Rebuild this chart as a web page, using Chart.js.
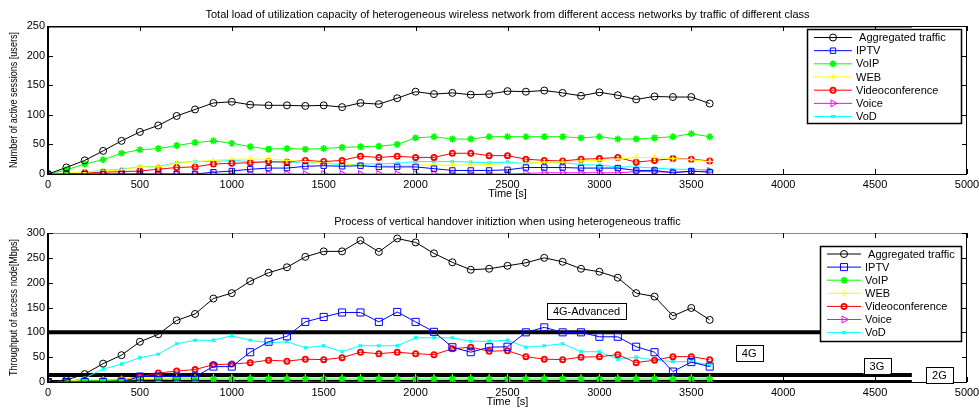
<!DOCTYPE html>
<html>
<head>
<meta charset="utf-8">
<script src="https://cdn.jsdelivr.net/npm/chart.js@4.4.1/dist/chart.umd.min.js"></script>
<style>
  body { margin: 0; background: #fff; width: 979px; height: 411px; overflow: hidden; }
  canvas { position: absolute; left: 0; }
  #c1 { top: 0; }
  #c2 { top: 205px; }
</style>
</head>
<body>
<canvas id="c1" width="979" height="205"></canvas>
<canvas id="c2" width="979" height="206"></canvas>
<script>
// time axis (s)
const times = [0, 100, 200, 300, 400, 500, 600, 700, 800, 900, 1000, 1100, 1200, 1300, 1400, 1500, 1600, 1700, 1800,
  1900, 2000, 2100, 2200, 2300, 2400, 2500, 2600, 2700, 2800, 2900, 3000, 3100, 3200, 3300, 3400, 3500, 3600];
const seriesNames = [' Aggregated traffic', 'IPTV', 'VoIP', 'WEB', 'Videoconference', 'Voice', 'VoD'];

// upper plot: active sessions [users]
const aggSessions = [0, 11, 23, 39, 56, 71, 82, 98, 109, 120, 122, 117, 116, 116, 115, 116, 113, 120, 118, 128, 139, 135,
  137, 134, 135, 140, 139, 141, 137, 132, 138, 133, 126, 131, 130, 130, 119];
const iptvSessions = [0, 0, 0, 0, 0, 0, 0, 0, 0, 3, 5, 8, 10, 10, 13, 14, 13, 14, 12, 12, 12, 9, 6, 6, 6, 7, 11, 11, 11, 10,
  10, 10, 6, 6, 2, 5, 3];
const voipSessions = [0, 7, 17, 24, 35, 41, 43, 48, 53, 56, 52, 46, 42, 43, 42, 43, 45, 46, 47, 50, 61, 63, 59, 59, 63, 63,
  63, 63, 63, 61, 63, 59, 59, 61, 63, 68, 63];
const webSessions = [0, 2, 3, 5, 7, 12, 12, 18, 21, 23, 25, 25, 25, 23, 21, 19, 17, 14, 14, 14, 15, 15, 15, 15, 16, 18, 18,
  20, 20, 22, 23, 25, 28, 28, 26, 24, 21];
const videoSessions = [0, 1, 2, 3, 4, 5, 8, 11, 12, 17, 18, 19, 21, 20, 23, 21, 23, 30, 28, 30, 28, 28, 35, 35, 31, 31, 25,
  23, 22, 25, 26, 28, 20, 23, 26, 25, 22];
const voiceSessions = [0, 0, 0, 0, 0, 0, 0, 0, 0, 0, 0, 0, 0, 0, 0, 0, 0, 0, 0, 0, 0, 0, 0, 0, 0, 0, 1, 2, 2, 2, 2, 2, 4, 4,
  3, 4, 5];
const vodSessions = [0, 1, 3, 6, 8, 12, 13, 19, 21, 21, 23, 21, 20, 20, 20, 19, 15, 17, 17, 18, 21, 21, 21, 20, 19, 20, 18,
  20, 19, 16, 15, 12, 12, 10, 8, 8, 7];

// lower plot: throughput of access node [Mbps]
const aggTput = [0, 4, 16, 37, 54, 81, 96, 124, 137, 168, 179, 203, 220, 231, 252, 263, 263, 285, 262, 289, 281, 259, 241,
  226, 228, 234, 240, 250, 242, 228, 222, 210, 179, 172, 133, 149, 125];
const iptvTput = [0, 0, 0, 0, 0, 11, 11, 11, 11, 31, 31, 60, 81, 92, 121, 131, 140, 140, 121, 141, 121, 101, 70, 60, 70, 71,
  100, 110, 100, 100, 91, 91, 71, 60, 21, 40, 31];
const voipTput = [0, 1, 2, 3, 4, 5, 5, 6, 6, 6, 6, 6, 6, 6, 6, 6, 6, 6, 6, 6, 6, 6, 6, 6, 6, 6, 6, 6, 6, 6, 6, 6, 6, 6, 6, 6, 6];
const webTput = [0, 2, 4, 5, 6, 7, 8, 8, 9, 9, 9, 9, 9, 9, 9, 9, 9, 9, 9, 9, 9, 9, 9, 9, 9, 9, 9, 9, 9, 9, 9, 9, 9, 9, 9, 9, 9];
const videoTput = [0, 0, 2, 3, 5, 10, 18, 22, 25, 35, 36, 39, 44, 42, 46, 45, 49, 60, 57, 60, 57, 55, 67, 70, 62, 63, 51, 46,
  45, 50, 51, 55, 39, 44, 51, 51, 45];
const voiceTput = [0, 0, 0, 0, 0, 0, 0, 0, 0, 0, 0, 0, 0, 0, 0, 0, 0, 0, 0, 0, 0, 0, 0, 0, 0, 0, 0, 0, 0, 0, 0, 0, 0, 0, 0, 0, 0];
const vodTput = [0, 0, 8, 26, 36, 49, 56, 77, 84, 84, 93, 84, 79, 81, 69, 73, 61, 73, 73, 73, 89, 89, 89, 82, 82, 84, 70, 73,
  77, 61, 61, 46, 50, 44, 41, 41, 34];

// network capacity limits (thick black lines) and their labels
const limitEnd = 4700;
const sessionLimits = [250];
const tputLimits = [100, 14, 0];
const netLabels = ['4G-Advanced', '4G', '3G', '2G'];
const netLabelX = [2930, 3815, 4510, 4850];
const netLabelY = [142, 58, 32, 14];

const FONT = '"Liberation Sans", Arial, sans-serif';
const colors = ['#000000', '#0000ff', '#00ff00', '#ffff00', '#ff0000', '#ff00ff', '#00ffff'];
const markers = [
  { pointStyle: 'circle', radius: 3.5, rotation: 0, borderWidth: 1 },
  { pointStyle: 'rect', radius: 4.2, rotation: 0, borderWidth: 1 },
  { pointStyle: 'star', radius: 3.5, rotation: 0, borderWidth: 1.6 },
  { pointStyle: 'cross', radius: 3.5, rotation: 0, borderWidth: 1 },
  { pointStyle: 'circle', radius: 2.6, rotation: 0, borderWidth: 1.8 },
  { pointStyle: 'triangle', radius: 4, rotation: 90, borderWidth: 1 },
  { pointStyle: 'crossRot', radius: 2.2, rotation: 0, borderWidth: 1.4 }
];

function points(values) {
  return times.map((t, i) => ({ x: t, y: values[i] }));
}

function seriesSets(list, squareRadius) {
  return list.map((values, i) => {
    const m = markers[i];
    const r = i === 1 ? squareRadius : m.radius;
    return {
      label: seriesNames[i],
      data: points(values),
      borderColor: colors[i],
      borderWidth: 1,
      pointStyle: m.pointStyle,
      pointRadius: r,
      pointRotation: m.rotation,
      pointBorderWidth: m.borderWidth,
      pointBorderColor: colors[i],
      pointBackgroundColor: 'rgba(0,0,0,0)',
      tension: 0
    };
  });
}

function limitSets(levels, width) {
  return levels.map(v => ({
    label: 'limit',
    data: [{ x: 0, y: v }, { x: limitEnd, y: v }],
    borderColor: '#000',
    borderWidth: width,
    pointRadius: 0
  }));
}

function decor(cfg) {
  return {
    id: 'decor',
    afterDatasetsDraw(chart) {
      const { ctx, chartArea: a, scales: { x, y } } = chart;
      ctx.save();
      // frame
      ctx.lineWidth = 1;
      ctx.strokeStyle = cfg.topColor;
      ctx.beginPath();
      ctx.moveTo(a.left, a.top + 0.5); ctx.lineTo(a.right, a.top + 0.5);
      ctx.stroke();
      ctx.strokeStyle = '#000';
      ctx.beginPath();
      ctx.moveTo(a.right - 0.5, a.top); ctx.lineTo(a.right - 0.5, a.bottom);
      ctx.moveTo(a.left, a.bottom + 0.5); ctx.lineTo(a.right, a.bottom + 0.5);
      ctx.stroke();
      ctx.lineWidth = 2;
      ctx.beginPath();
      ctx.moveTo(a.left, a.top); ctx.lineTo(a.left, a.bottom + 1);
      ctx.stroke();
      // inward ticks
      ctx.lineWidth = 1;
      ctx.beginPath();
      x.ticks.forEach(t => {
        const px = Math.round(x.getPixelForValue(t.value)) + 0.5;
        ctx.moveTo(px, a.bottom); ctx.lineTo(px, a.bottom - 5);
        ctx.moveTo(px, a.top); ctx.lineTo(px, a.top + 5);
      });
      y.ticks.forEach(t => {
        const py = Math.round(y.getPixelForValue(t.value)) + 0.5;
        ctx.moveTo(a.left, py); ctx.lineTo(a.left + 5, py);
        ctx.moveTo(a.right, py); ctx.lineTo(a.right - 5, py);
      });
      ctx.stroke();

      // titles
      ctx.fillStyle = '#000';
      ctx.font = '11px ' + FONT;
      ctx.textAlign = 'center';
      ctx.textBaseline = 'middle';
      const cx = (a.left + a.right) / 2;
      ctx.fillText(cfg.title, cx, a.top - 11);
      ctx.fillText(cfg.xTitle, cx, a.bottom + 20);
      ctx.save();
      const w = ctx.measureText(cfg.yTitle).width;
      ctx.translate(14, (a.top + a.bottom) / 2);
      ctx.rotate(-Math.PI / 2);
      ctx.scale(cfg.yTitleLen / w, 1);
      ctx.fillText(cfg.yTitle, 0, 0);
      ctx.restore();

      // network labels
      if (cfg.labels) {
        cfg.labels.forEach((txt, i) => {
          const px = x.getPixelForValue(netLabelX[i]);
          const py = y.getPixelForValue(netLabelY[i]);
          const bw = ctx.measureText(txt).width + 12;
          const bh = 16;
          ctx.fillStyle = '#fff';
          ctx.fillRect(px - bw / 2, py - bh / 2, bw, bh);
          ctx.strokeStyle = '#000';
          ctx.strokeRect(Math.round(px - bw / 2) + 0.5, Math.round(py - bh / 2) + 0.5, Math.round(bw), bh);
          ctx.fillStyle = '#000';
          ctx.fillText(txt, px, py + 0.5);
        });
      }

      // legend box
      const L = cfg.legend;
      const lx = a.right - 6 - L.w;
      const ly = a.top + L.top;
      ctx.fillStyle = '#fff';
      ctx.fillRect(lx, ly, L.w, L.h);
      ctx.strokeStyle = '#000';
      ctx.lineWidth = 1.5;
      ctx.strokeRect(Math.round(lx) + 0.5, Math.round(ly) + 0.5, Math.round(L.w), Math.round(L.h));
      ctx.textAlign = 'left';
      const sets = chart.data.datasets.filter(d => d.label !== 'limit');
      sets.forEach((d, i) => {
        const ry = ly + L.first + i * L.step;
        ctx.strokeStyle = d.borderColor;
        ctx.lineWidth = 1;
        ctx.beginPath();
        ctx.moveTo(lx + L.lineStart, ry); ctx.lineTo(lx + L.lineStart + L.lineLen, ry);
        ctx.stroke();
        ctx.lineWidth = d.pointBorderWidth;
        ctx.fillStyle = 'rgba(0,0,0,0)';
        Chart.helpers.drawPoint(ctx, {
          pointStyle: d.pointStyle, rotation: d.pointRotation, radius: d.pointRadius, borderWidth: d.pointBorderWidth
        }, lx + L.lineStart + L.lineLen / 2, ry);
        ctx.fillStyle = '#000';
        ctx.fillText(d.label, lx + L.textX, ry + 0.5);
      });
      ctx.restore();
    }
  };
}

function makeChart(id, datasets, yMax, xHeight, cfg) {
  return new Chart(document.getElementById(id), {
    type: 'line',
    data: { datasets },
    options: {
      responsive: false,
      animation: false,
      devicePixelRatio: 1,
      layout: { padding: { left: 0, right: 12, top: cfg.padTop, bottom: 0 }, autoPadding: false },
      plugins: { legend: { display: false }, tooltip: { enabled: false }, title: { display: false } },
      scales: {
        x: {
          type: 'linear', min: 0, max: 5000,
          grid: { display: false, drawTicks: false }, border: { display: false },
          ticks: {
            stepSize: 500, autoSkip: false, maxRotation: 0, padding: 4, color: '#000',
            font: { family: FONT, size: 11 }, callback: v => String(v)
          },
          afterFit: s => { s.height = xHeight; s.paddingLeft = 0; s.paddingRight = 0; }
        },
        y: {
          min: 0, max: yMax,
          grid: { display: false, drawTicks: false }, border: { display: false },
          ticks: { stepSize: 50, padding: 3, color: '#000', font: { family: FONT, size: 11 }, callback: v => String(v) },
          afterFit: s => { s.width = 48; s.paddingTop = 0; s.paddingBottom = 0; }
        }
      }
    },
    plugins: [decor(cfg)]
  });
}

makeChart('c1',
  seriesSets([aggSessions, iptvSessions, voipSessions, webSessions, videoSessions, voiceSessions, vodSessions], 3.8)
    .concat(limitSets(sessionLimits, 3)),
  250, 31, {
    padTop: 26,
    topColor: '#000',
    title: 'Total load of utilization capacity of heterogeneous wireless network from different access networks by traffic of different class',
    xTitle: 'Time [s]',
    yTitle: 'Number of active sessions [users]',
    yTitleLen: 136,
    legend: { w: 154, h: 94, top: 3, first: 8.5, step: 13.17, lineStart: 7, lineLen: 38, textX: 49 }
  });

makeChart('c2',
  seriesSets([aggTput, iptvTput, voipTput, webTput, videoTput, voiceTput, vodTput], 5)
    .concat(limitSets(tputLimits, 4)),
  300, 29, {
    padTop: 28,
    topColor: '#888',
    title: 'Process of vertical handover initiztion when using heterogeneous traffic',
    xTitle: 'Time  [s]',
    yTitle: 'Throughput of access node[Mbps]',
    yTitleLen: 137,
    labels: netLabels,
    legend: { w: 141, h: 95, top: 13, first: 8, step: 13.1, lineStart: 7, lineLen: 34, textX: 45 }
  });
</script>
</body>
</html>
